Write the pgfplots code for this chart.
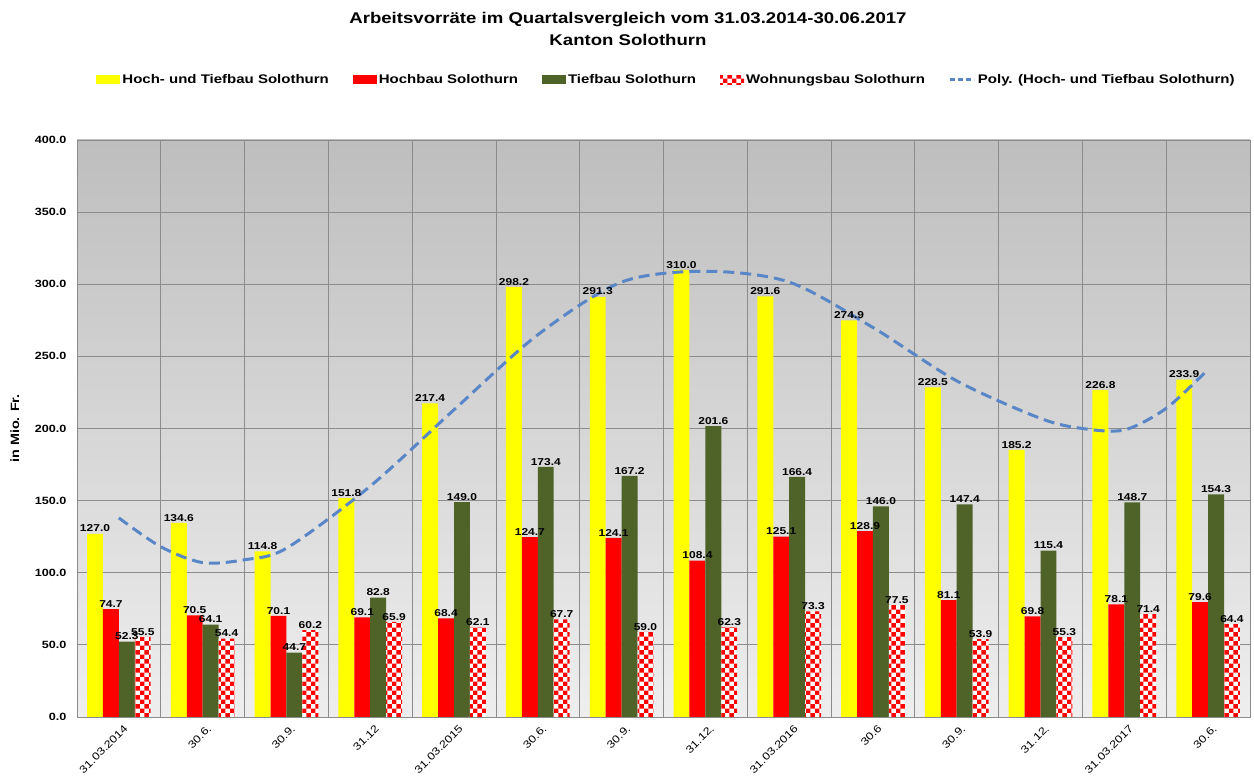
\documentclass[border=0pt]{standalone}
\usepackage{pgfplots}
\pgfplotsset{compat=1.18}
\usepackage{pgfplotstable}
\usepackage{fontspec}
\setmainfont[FakeStretch=1.2]{Liberation Sans}
\usetikzlibrary{patterns.meta}
\definecolor{cyel}{RGB}{255,255,0}
\definecolor{cred}{RGB}{255,0,0}
\definecolor{cgreen}{RGB}{79,98,40}
\definecolor{cpoly}{RGB}{88,134,198}
\definecolor{bgtop}{RGB}{190,190,190}
\definecolor{bgmid}{RGB}{224,224,224}
\definecolor{bgbot}{RGB}{238,238,238}
\definecolor{gridc}{RGB}{140,140,140}
\tikzdeclarepattern{
  name=bigchecker,
  type=uncolored,
  bottom left={(0pt,0pt)},
  top right={(9.4pt,9.4pt)},
  tile size={(9.4pt,9.4pt)},
  code={
    \fill (0pt,0pt) rectangle (4.7pt,4.7pt);
    \fill (4.7pt,4.7pt) rectangle (9.4pt,9.4pt);
  }
}
\pgfplotstableread{
x ht hb tb wb
0 127.0 74.7 52.3 55.5
1 134.6 70.5 64.1 54.4
2 114.8 70.1 44.7 60.2
3 151.8 69.1 82.8 65.9
4 217.4 68.4 149.0 62.1
5 298.2 124.7 173.4 67.7
6 291.3 124.1 167.2 59.0
7 310.0 108.4 201.6 62.3
8 291.6 125.1 166.4 73.3
9 274.9 128.9 146.0 77.5
10 228.5 81.1 147.4 53.9
11 185.2 69.8 115.4 55.3
12 226.8 78.1 148.7 71.4
13 233.9 79.6 154.3 64.4
}\datatable
\pgfplotsset{
  barlab/.style={
    nodes near coords={\pgfmathprintnumber[fixed,fixed zerofill,precision=1,assume math mode=true]{\pgfplotspointmeta}},
    every node near coord/.append style={font=\fontsize{10}{12}\selectfont\bfseries, black, inner sep=1.5pt}
  },
  barleg/.style={legend image code/.code={\fill[##1] (0pt,-4.5pt) rectangle (24pt,4.5pt);}},
  polyleg/.style={legend image code/.code={\draw[##1, line width=3pt, dash pattern=on 5pt off 3pt] (0pt,0pt) -- (24pt,0pt);}}
}
\begin{document}
\begin{tikzpicture}
\path[use as bounding box] (0pt,0pt) rectangle (1254pt,778pt);
\node[font=\fontsize{15.5}{22}\selectfont\bfseries, align=center] at (628pt,749pt) {Arbeitsvorräte im Quartalsvergleich vom 31.03.2014-30.06.2017\\Kanton Solothurn};
\begin{axis}[
  at={(77pt,61pt)}, anchor=south west,
  width=1173pt, height=577pt, scale only axis,
  xmin=-0.5, xmax=13.5, ymin=0, ymax=400,
  clip=false,
  xtick={0,...,13},
  xticklabels={31.03.2014,30.6.,30.9.,31.12,31.03.2015,30.6.,30.9.,31.12.,31.03.2016,30.6,30.9.,31.12.,31.03.2017,30.6.},
  x tick label style={rotate=45, anchor=north east, font=\fontsize{10.5}{12}\selectfont, inner sep=2pt, yshift=-6pt},
  ytick={0,50,...,400},
  y tick label style={/pgf/number format/.cd, fixed, fixed zerofill, precision=1, assume math mode=true, /tikz/.cd, font=\fontsize{10.5}{12}\selectfont\bfseries, xshift=-7pt},
  minor xtick={0.5,1.5,...,12.5},
  xminorgrids, ymajorgrids,
  grid style={gridc, line width=0.8pt},
  minor grid style={gridc, line width=0.8pt},
  tick style={draw=none},
  axis line style={draw=gridc},
  axis background/.style={top color=bgtop, middle color=bgmid, bottom color=bgbot},
  ylabel={in Mio. Fr.},
  ylabel style={font=\fontsize{12}{14}\selectfont\bfseries, at={(axis description cs:-0.053,0.5)}, anchor=center},
  legend columns=5,
  legend cell align=left,
  legend style={at={(axis description cs:0.5026,1.104)}, anchor=center, draw=none, fill=none,
    font=\fontsize{12.5}{14}\selectfont\bfseries,
    /tikz/every even column/.append style={column sep=22pt}},
]
\addplot[ybar, bar width=0.19, bar shift=0, fill=cyel, draw=none, barlab, barleg] table[x expr=\thisrow{x}-0.285,y=ht]{\datatable};
\addlegendentry{Hoch- und Tiefbau Solothurn}
\addplot[ybar, bar width=0.19, bar shift=0, fill=cred, draw=none, barlab, barleg] table[x expr=\thisrow{x}-0.095,y=hb]{\datatable};
\addlegendentry{Hochbau Solothurn}
\addplot[ybar, bar width=0.19, bar shift=0, fill=cgreen, draw=none, barlab, barleg] table[x expr=\thisrow{x}+0.095,y=tb]{\datatable};
\addlegendentry{Tiefbau Solothurn}
\addplot[ybar, bar width=0.19, bar shift=0, fill=white, draw=none, postaction={pattern={bigchecker}, pattern color=cred}, barlab, barleg] table[x expr=\thisrow{x}+0.285,y=wb]{\datatable};
\addlegendentry{Wohnungsbau Solothurn}
\addplot[smooth, color=cpoly, line width=3pt, dash pattern=on 11pt off 6pt, polyleg]
  coordinates {(0,138) (0.5,118) (1,107) (1.5,109) (2,117) (3,160) (4,213) (5,265) (6,301.5) (7,309) (8,301.5) (9,270) (10,233) (11,207) (11.5,200) (12,199) (12.5,214) (13,241)};
\addlegendentry{Poly. (Hoch- und Tiefbau Solothurn)}
\end{axis}
\end{tikzpicture}
\end{document}
